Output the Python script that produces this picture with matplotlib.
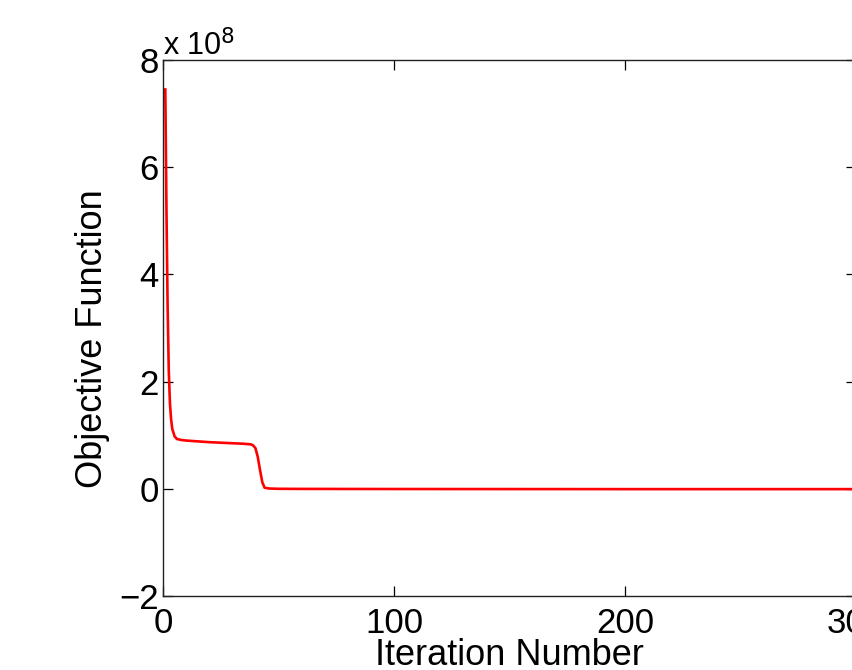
import matplotlib
matplotlib.use("Agg")
import matplotlib.pyplot as plt
from matplotlib.ticker import FuncFormatter

# values (objective in absolute units)
iterations = [1, 1.5, 2, 2.5, 3, 3.5, 4, 5, 6, 8, 10, 15, 20, 25, 30, 35, 38, 39, 40, 41, 42,
              43, 44, 46, 50, 60, 80, 100, 150, 200, 250, 300]
objective = [7.45e8, 5.2e8, 3.4e8, 2.2e8, 1.6e8, 1.3e8, 1.12e8, 0.98e8, 0.93e8, 0.91e8, 0.9e8,
             0.885e8, 0.87e8, 0.86e8, 0.85e8, 0.84e8, 0.83e8, 0.81e8, 0.76e8, 0.6e8, 0.35e8,
             0.12e8, 0.02e8, 0.005e8, 0.0, -0.002e8, -0.003e8, -0.004e8, -0.005e8, -0.006e8,
             -0.006e8, -0.006e8]

xticks = [0, 100, 200, 300]
yticks = [-2e8, 0, 2e8, 4e8, 6e8, 8e8]

plt.rcParams['font.family'] = ['Liberation Sans', 'DejaVu Sans']

fig = plt.figure(figsize=(8.52, 6.70), dpi=100)
ax = fig.add_axes([163 / 852, 74 / 670, 693 / 852, 536 / 670])

ax.plot(iterations, objective, color='red', linewidth=1.9)

ax.set_xlim(0, 300)
ax.set_ylim(-2e8, 8e8)
ax.set_xticks(xticks)
ax.set_yticks(yticks)
ax.yaxis.set_major_formatter(FuncFormatter(lambda v, p: f"{v / 1e8:g}".replace('-', '\u2212')))

ax.tick_params(direction='in', length=7, width=0.9, top=True, right=True,
               labelsize=25, colors='black')
ax.tick_params(axis='x', pad=8)
ax.tick_params(axis='y', pad=3)
for s in ax.spines.values():
    s.set_linewidth(1.0)
    s.set_color('#222222')

ax.set_xlabel("Iteration Number", fontsize=26)
ax.set_ylabel("Objective Function", fontsize=26)
ax.xaxis.set_label_coords(0.5, -0.078)
ax.yaxis.set_label_coords(-0.077, 0.48)

fig.text(163 / 852, 1 - 55 / 670, "x 10$^{8}$", fontsize=22, ha='left', va='baseline')

fig.savefig("out.png", dpi=100)
